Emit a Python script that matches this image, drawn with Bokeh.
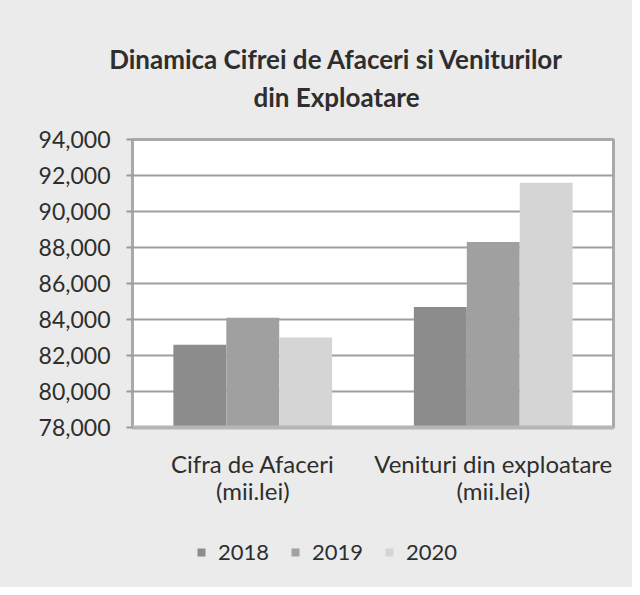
from bokeh.plotting import figure
from bokeh.models import (FactorRange, Range1d, Legend, LegendItem, Label,
                          NumeralTickFormatter, FixedTicker, ColumnDataSource)
from bokeh.layouts import column
from bokeh.transform import dodge
from bokeh.embed import file_html
from bokeh.resources import INLINE

title_lines = ["Dinamica Cifrei de Afaceri si Veniturilor", "din Exploatare"]
categories = ["Cifra de Afaceri\n(mii.lei)", "Venituri din exploatare\n(mii.lei)"]
years = ["2018", "2019", "2020"]
values_2018 = [82600, 84700]
values_2019 = [84100, 88300]
values_2020 = [83000, 91600]
y_ticks = [78000, 80000, 82000, 84000, 86000, 88000, 90000, 92000, 94000]
colors = ["#8c8c8c", "#a0a0a0", "#d5d5d5"]

FONT = "Lato"
TXT = "#2e2e2e"
BG = "#ebebeb"
W = 632


def no_align(f):
    try:
        f.frame_align = False
    except Exception:
        pass


def blank(h):
    f = figure(width=W, height=h, x_range=Range1d(0, W), y_range=Range1d(0, h),
               x_axis_type=None, y_axis_type=None, output_backend="svg",
               toolbar_location=None, min_border=0)
    f.min_border_left = f.min_border_right = f.min_border_top = f.min_border_bottom = 0
    f.outline_line_color = None
    f.background_fill_color = BG
    f.border_fill_color = BG
    f.grid.grid_line_color = None
    no_align(f)
    return f


# ---- header with the two title lines
header = blank(119)
for txt, yy in zip(title_lines, [61, 23]):
    header.add_layout(Label(x=336, y=yy, text=txt, text_align="center",
                            text_baseline="middle", text_font=FONT,
                            text_font_size="26px", text_font_style="bold",
                            text_color=TXT))

# ---- main chart
src = ColumnDataSource(dict(cat=categories, y2018=values_2018,
                            y2019=values_2019, y2020=values_2020))

p = figure(x_range=FactorRange(*categories), y_range=Range1d(y_ticks[0], y_ticks[-1]),
           width=W, height=408, output_backend="svg", toolbar_location=None,
           min_border_left=132, min_border_right=19, min_border_top=20,
           min_border_bottom=100)
no_align(p)

p.border_fill_color = BG
p.background_fill_color = "white"
p.outline_line_color = "#a9a9a9"
p.outline_line_width = 3

bw = 0.22
for i, (yr, col) in enumerate(zip(years, colors)):
    p.vbar(x=dodge("cat", (i - 1) * bw, range=p.x_range), top="y" + yr,
           bottom=y_ticks[0], width=bw, source=src, fill_color=col,
           line_color=None)

p.yaxis.ticker = FixedTicker(ticks=y_ticks)
p.yaxis.formatter = NumeralTickFormatter(format="0,0")
p.yaxis.major_label_text_font = FONT
p.yaxis.major_label_text_font_size = "23px"
p.yaxis.major_label_text_color = TXT
p.yaxis.axis_line_color = None
p.yaxis.major_tick_line_color = "#9a9a9a"
p.yaxis.major_tick_line_width = 2
p.yaxis.major_tick_out = 6
p.yaxis.major_tick_in = 0
p.yaxis.minor_tick_line_color = None
p.yaxis.major_label_standoff = 16

p.xaxis.major_label_text_font = FONT
p.xaxis.major_label_text_font_size = "24px"
p.xaxis.major_label_text_line_height = 0.94
p.xaxis.major_label_text_color = TXT
p.xaxis.axis_line_color = "#b5b5b5"
p.xaxis.axis_line_width = 4
p.xaxis.major_tick_line_color = None
p.xaxis.minor_tick_line_color = None
p.xaxis.major_label_standoff = 15

p.xgrid.grid_line_color = None
p.ygrid.grid_line_color = "#9f9f9f"
p.ygrid.grid_line_width = 1.8

# ---- legend strip
leg = blank(60)
items = []
nan = float("nan")
for yr, col in zip(years, colors):
    r = leg.rect(x=[nan], y=[nan], width=1, height=1, fill_color=col, line_color=None)
    items.append(LegendItem(label=yr, renderers=[r]))
legend = Legend(items=items, orientation="horizontal", location=(196, 22),
                label_text_font=FONT, label_text_font_size="22px", label_text_color=TXT,
                glyph_width=10, glyph_height=10, label_standoff=12, spacing=21,
                background_fill_alpha=0, border_line_color=None,
                margin=0, padding=5)
leg.add_layout(legend, "center")

layout = column(header, p, leg, spacing=0, styles={"background-color": BG})
open("out.html", "w").write(file_html(layout, INLINE))
